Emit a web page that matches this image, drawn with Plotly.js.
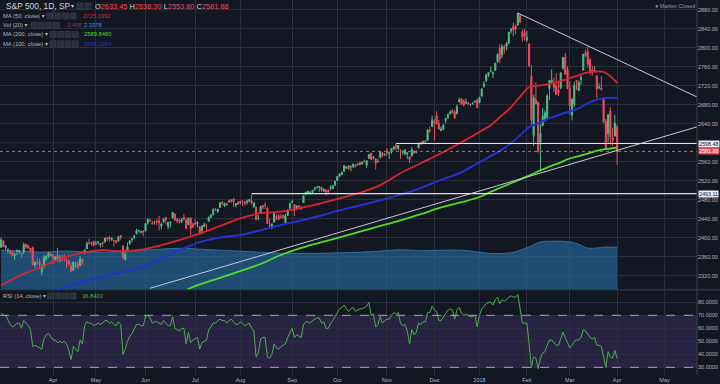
<!DOCTYPE html>
<html><head><meta charset="utf-8">
<script src="https://cdn.plot.ly/plotly-3.0.1.min.js"></script>
<style>html,body{margin:0;padding:0;background:#131722;}#chart{width:720px;height:384px;}</style>
</head><body><div id="chart"></div>
<script>
// ---------- calendar ----------
const firstDay = '2017-03-01', lastDay = '2018-04-02', axisEnd = '2018-05-31';
const holidays = ['2017-04-14','2017-05-29','2017-07-04','2017-09-04','2017-11-23','2017-12-25','2018-01-01','2018-01-15','2018-02-19','2018-03-30'];
function tradingDays(from, to) {
  const out = []; const d = new Date(from + 'T00:00:00Z'); const end = new Date(to + 'T00:00:00Z');
  while (d <= end) { const wd = d.getUTCDay(); const s = d.toISOString().slice(0, 10);
    if (wd !== 0 && wd !== 6 && holidays.indexOf(s) < 0) out.push(s); d.setUTCDate(d.getUTCDate() + 1); }
  return out;
}
const dates = tradingDays(firstDay, lastDay);
const axisDays = tradingDays(firstDay, axisEnd);

// ---------- price data (daily OHLC) ----------
const open = [
2380,2394,2380,2375,2371,2370,2363,2372,2371,2368,2370,2387,2384,2378,2379,2343,2346,2350,2329,2339,2356,2361,2366,
2363,2354,2363,2353,2356,2358,2354,2352,2341,2332,2342,2346,2342,2355,2370,2377,2389,2389,2393,
2388,2391,2386,2390,2392,2400,2401,2397,2395,2394,2393,2405,2383,2354,2371,2388,2397,2401,2409,2415,2412,2415,
2415,2432,2437,2431,2433,2434,2436,2425,2434,2443,2424,2432,2442,2450,2439,2437,2434,2443,2437,2428,2442,2429,
2431,2430,2423,2414,2424,2427,2435,2444,2449,2460,2455,2464,2475,2468,2472,2476,2480,2482,2469,2475,
2474,2478,2476,2475,2477,2478,2465,2465,2441,2454,2468,2469,2462,2427,2425,2433,2445,2447,2444,2447,2432,2447,2462,
2475,2470,2463,2468,2462,2474,2492,2493,2494,2496,2502,2506,2507,2507,2498,2500,2500,2504,2504,2511,
2521,2530,2533,2540,2547,2552,2549,2550,2553,2556,2555,2556,2562,2553,2567,2578,2568,2566,2560,2570,2578,2575,
2584,2578,2581,2588,2595,2588,2585,2580,2576,2577,2570,2572,2583,2580,2589,2601,2600,2603,2605,2627,2634,
2645,2657,2640,2626,2628,2647,2652,2661,2667,2665,2661,2686,2693,2689,2683,2684,2680,2682,2686,2690,
2684,2698,2719,2731,2743,2751,2745,2752,2771,2799,2785,2802,2803,2810,2835,2845,2846,2848,2868,2833,2832,
2817,2808,2741,2615,2690,2686,2601,2636,2646,2653,2714,2728,2725,2720,2711,2716,2757,2780,2754,
2715,2658,2681,2731,2710,2733,2753,2790,2792,2775,2753,2750,2741,2716,2715,2691,2646,2619,2667,2611,2614,
2633.45];
const high = [
2401,2394,2385,2378,2375,2373,2369,2376,2374,2369,2390,2388,2386,2379,2382,2351,2358,2357,2344,2364,2363,2370,2369,
2366,2361,2379,2364,2364,2366,2356,2352,2348,2350,2349,2352,2362,2356,2376,2392,2398,2392,2394,
2394,2392,2389,2392,2400,2401,2404,2400,2396,2395,2404,2406,2385,2375,2390,2396,2400,2405,2419,2416,2415,2415,
2431,2441,2440,2436,2436,2440,2446,2432,2441,2444,2433,2434,2454,2451,2442,2441,2442,2450,2442,2443,2443,2432,
2439,2435,2425,2427,2432,2430,2445,2450,2463,2463,2461,2474,2477,2474,2474,2480,2481,2484,2473,2477,
2478,2479,2477,2480,2481,2491,2475,2465,2448,2468,2468,2475,2466,2440,2431,2454,2449,2449,2451,2449,2450,2460,2475,
2480,2471,2469,2469,2467,2489,2497,2499,2498,2501,2508,2508,2509,2507,2504,2503,2503,2510,2511,2520,
2530,2535,2540,2553,2550,2552,2551,2556,2555,2558,2559,2560,2565,2563,2576,2579,2572,2568,2566,2582,2581,2578,
2589,2581,2588,2593,2597,2595,2586,2583,2587,2579,2572,2591,2584,2584,2600,2602,2605,2606,2628,2634,2657,
2650,2666,2648,2634,2640,2652,2660,2669,2671,2669,2680,2695,2694,2691,2693,2686,2683,2686,2688,2692,
2696,2715,2730,2744,2749,2760,2750,2768,2788,2807,2807,2806,2811,2833,2842,2853,2849,2873,2870,2838,2840,
2835,2809,2763,2701,2727,2686,2639,2673,2668,2702,2732,2754,2737,2747,2731,2748,2780,2789,2761,
2730,2694,2728,2732,2731,2741,2787,2797,2802,2778,2762,2761,2741,2725,2740,2695,2651,2661,2675,2632,2659,
2638.30];
const low = [
2380,2380,2375,2367,2365,2361,2354,2364,2367,2358,2366,2377,2378,2369,2342,2337,2342,2334,2322,2336,2352,2358,2361,
2345,2350,2350,2348,2350,2350,2337,2342,2328,2332,2337,2334,2340,2344,2366,2376,2387,2383,2382,
2385,2386,2380,2381,2389,2393,2392,2393,2382,2388,2393,2396,2357,2352,2370,2385,2391,2397,2407,2411,2409,2403,
2413,2428,2434,2429,2428,2427,2415,2418,2431,2428,2418,2422,2441,2437,2431,2430,2431,2436,2419,2428,2406,2421,
2428,2422,2408,2414,2422,2413,2435,2442,2447,2457,2452,2463,2468,2465,2467,2474,2474,2465,2464,2469,
2471,2467,2468,2470,2475,2470,2464,2438,2437,2454,2460,2461,2430,2421,2418,2433,2437,2437,2441,2439,2429,2447,2462,
2473,2446,2458,2460,2459,2474,2489,2492,2491,2493,2499,2504,2497,2497,2497,2489,2493,2500,2502,2509,
2520,2528,2532,2539,2545,2542,2540,2547,2548,2552,2552,2554,2559,2547,2567,2564,2565,2544,2559,2566,2569,2572,
2572,2566,2577,2584,2584,2585,2566,2575,2576,2566,2557,2572,2576,2578,2589,2595,2600,2598,2604,2620,2634,
2605,2639,2627,2624,2627,2641,2651,2660,2662,2651,2660,2686,2680,2676,2683,2679,2677,2680,2684,2673,
2683,2698,2716,2728,2738,2748,2736,2752,2768,2768,2778,2788,2794,2808,2830,2824,2828,2846,2853,2813,2815,
2812,2759,2638,2593,2681,2580,2540,2636,2645,2648,2690,2725,2707,2701,2698,2713,2754,2744,2713,
2659,2647,2675,2711,2709,2722,2752,2780,2758,2743,2741,2749,2694,2713,2710,2641,2585,2601,2596,2593,2614,
2553.80];
const close = [
2395.96,2381.92,2383.12,2375.31,2368.39,2362.98,2364.87,2372.60,2373.47,2365.45,2385.26,2381.38,2378.25,2373.47,2344.02,2348.45,2345.96,2343.98,2341.59,2358.57,2361.13,2368.06,2362.72,
2358.84,2360.16,2352.95,2357.49,2355.54,2357.16,2353.78,2344.93,2328.95,2349.01,2342.19,2338.17,2355.84,2348.69,2374.15,2388.61,2387.45,2388.77,2384.20,
2388.33,2391.17,2388.13,2389.52,2399.29,2399.38,2396.92,2399.63,2394.44,2390.90,2402.32,2400.67,2357.03,2365.72,2381.73,2394.02,2398.42,2404.39,2415.07,2415.82,2412.91,2411.80,
2430.06,2439.07,2436.10,2429.33,2433.14,2433.79,2431.77,2429.39,2440.35,2437.92,2432.46,2433.15,2453.46,2437.03,2435.61,2434.50,2438.30,2439.07,2419.38,2440.69,2419.70,2423.41,
2429.01,2432.54,2409.75,2425.18,2427.43,2425.53,2443.25,2447.83,2459.27,2459.14,2460.61,2473.83,2473.45,2472.54,2469.91,2477.13,2477.83,2475.42,2472.10,2470.30,
2476.35,2477.57,2472.16,2476.83,2480.91,2474.92,2474.02,2438.21,2441.32,2465.84,2464.61,2468.11,2430.01,2425.55,2428.37,2452.51,2444.04,2438.97,2443.05,2444.24,2446.30,2457.59,2471.65,
2476.55,2457.85,2465.54,2465.10,2461.43,2488.11,2496.48,2498.37,2495.62,2500.23,2503.87,2506.65,2508.24,2500.60,2502.22,2496.66,2496.84,2507.04,2510.06,2519.36,
2529.12,2534.58,2537.74,2552.07,2549.33,2544.73,2550.64,2555.24,2550.93,2553.17,2557.64,2559.36,2561.26,2562.10,2575.21,2564.98,2569.13,2557.15,2560.40,2581.07,2572.83,2575.26,
2579.36,2579.85,2587.84,2591.13,2590.64,2594.38,2584.62,2582.30,2584.84,2578.87,2564.62,2585.64,2578.85,2582.14,2599.03,2597.08,2602.42,2601.42,2627.04,2626.07,2647.58,
2642.22,2639.44,2629.57,2629.27,2636.98,2651.50,2659.99,2664.11,2662.85,2652.01,2675.81,2690.16,2681.47,2679.25,2684.57,2683.34,2680.50,2682.62,2687.54,2673.61,
2695.81,2713.06,2723.99,2743.15,2747.71,2751.29,2748.23,2767.56,2786.24,2776.42,2802.56,2798.03,2810.30,2832.97,2839.13,2837.54,2839.25,2872.87,2853.53,2822.43,2823.81,
2821.98,2762.13,2648.94,2695.14,2681.66,2581.00,2619.55,2656.00,2662.94,2698.63,2731.20,2732.22,2716.26,2701.33,2703.96,2747.30,2779.60,2744.28,2713.83,
2677.67,2691.25,2720.94,2728.12,2726.80,2738.97,2786.57,2783.02,2765.31,2749.48,2747.33,2752.01,2712.92,2716.94,2711.93,2643.69,2588.26,2658.55,2612.62,2605.00,2640.87,
2581.88];

// ---------- RSI (14, close), read per bar ----------
const rsi = [
72,70,70,66,63,61,62,64,64,60,66,64,62,59,46,47,46,45,44,52,55,56,53,
51,51,49,50,49,50,48,43,36,46,44,42,51,48,62,65,64,64,62,
63,64,63,64,66,66,64,65,63,62,65,63,40,44,50,54,56,59,63,63,62,62,
69,70,68,64,65,65,64,63,66,64,62,62,69,60,59,58,60,60,48,57,49,51,
52,53,44,49,50,51,59,61,64,64,66,67,66,66,64,66,67,65,63,63,
65,64,62,63,64,60,58,38,41,52,53,53,38,37,40,48,45,44,46,47,48,53,57,
60,53,55,54,53,63,65,65,64,66,67,68,68,64,65,60,60,64,66,69,
72,75,76,78,75,73,75,76,73,74,75,75,76,77,80,70,71,61,63,69,64,66,
67,67,70,72,71,72,64,62,63,58,48,59,55,57,64,63,65,65,72,72,77,
74,73,66,66,69,72,74,75,74,67,74,76,72,70,71,70,69,69,70,61,
70,75,77,79,80,80,78,82,84,79,82,81,82,84,85,84,84,86,75,64,64,
64,48,30,38,37,29,37,41,42,47,51,51,49,47,47,53,57,53,49,
45,47,50,51,51,53,59,58,55,53,52,53,47,47,46,38,30,42,38,37,43,
36.84];

// ---------- moving averages & volume MA (read at sample dates) ----------
const maDates = ['2017-03-01','2017-03-14','2017-03-27','2017-04-07','2017-04-20','2017-05-03','2017-05-16','2017-05-30','2017-06-12','2017-06-23',
'2017-07-06','2017-07-19','2017-08-01','2017-08-14','2017-08-25','2017-09-08','2017-09-21','2017-10-03','2017-10-16','2017-10-27',
'2017-11-09','2017-11-22','2017-12-06','2017-12-19','2018-01-02','2018-01-09','2018-01-16','2018-01-23','2018-01-29','2018-02-02',
'2018-02-09','2018-02-15','2018-02-23','2018-03-01','2018-03-07','2018-03-12','2018-03-16','2018-03-22','2018-03-27','2018-04-02'];
const ma50 = [2300,2322,2339,2357,2368,2374,2372,2375,2385,2397,2409,2425,2441,2452,2455,2463,2473,2483,2495,2511,
2536,2557,2578,2601,2623,2637,2654,2675,2697,2717,2721,2724,2730,2736,2742,2747,2750,2749,2740,2726];
const ma100 = [2243,2262,2279,2294,2306,2317,2328,2338,2357,2376,2391,2401,2406,2416,2427,2437,2447,2458,2468,2479,
2491,2505,2522,2538,2559,2572,2583,2599,2616,2633,2643,2652,2660,2666,2673,2681,2689,2694,2695,2694];
const ma200 = [2180,2192,2205,2218,2229,2241,2252,2262,2272,2287,2302,2316,2330,2345,2364,2379,2391,2401,2413,2425,
2437,2450,2464,2475,2486,2497,2505,2515,2523,2531,2542,2550,2559,2567,2572,2576,2582,2586,2588,2590];
const volMa = [2.17,2.12,2.06,2.12,2.09,2.06,2.09,2.17,2.23,2.28,2.23,2.17,2.12,2.06,2.0,2.0,2.0,2.03,2.06,2.12,
2.2,2.14,2.17,2.17,2.06,1.99,1.99,2.03,2.17,2.36,2.63,2.67,2.67,2.63,2.5,2.31,2.28,2.34,2.34,2.34];

// ---------- axis ticks ----------
const tickDates = ['2017-04-03','2017-05-01','2017-06-01','2017-07-03','2017-08-01','2017-09-01','2017-10-02','2017-11-01','2017-12-01','2018-01-02','2018-02-01','2018-03-01','2018-04-02','2018-05-01'];
const tickLabels = ['Apr','May','Jun','Jul','Aug','Sep','Oct','Nov','Dec','2018','Feb','Mar','Apr','May'];
// 2600.00 sits under the 2598.48 price tag, so it is left out of the visible scale labels
const priceTicks = [2320,2360,2400,2440,2480,2520,2560,2640,2680,2720,2760,2800,2840,2880];
const rsiTicks = [30,40,50,60,70,80];

// ---------- drawings ----------
const levelPrices = [2598.48, 2493.11];
const levelStarts = ['2017-11-07', '2017-08-08'];
const trendUpDates = ['2017-06-05', '2018-04-02'], trendUpPrices = [2294, 2584];
const trendDownDates = ['2018-01-26', '2018-03-13'], trendDownPrices = [2872.87, 2804];

// ---------- build ----------
const pos = d => axisDays.indexOf(d);
const xMax = 308.4;
const PW = 697, PH = 375;
const X = px => px / PW, Y = py => 1 - py / PH;
const GRID = '#2b2f3c';
const C_UP = '#53b987', C_DN = '#eb4d5c';
const C50 = '#d8262f', C100 = '#2233cc', C200 = '#4fdc25', C_RSI = '#4caf50';
const xIdx = dates.map(pos);
const maX = maDates.map(pos);

const traces = [
  {type:'scatter', x:maX, y:volMa, xaxis:'x', yaxis:'y', mode:'lines', line:{color:'rgba(48,118,168,0.9)', width:1, shape:'spline'},
   fill:'tozeroy', fillcolor:'rgba(36,100,150,0.7)', hoverinfo:'skip'},
  {type:'candlestick', x:xIdx, open:open, high:high, low:low, close:close, xaxis:'x', yaxis:'y3', whiskerwidth:0,
   increasing:{line:{color:C_UP, width:1}, fillcolor:C_UP}, decreasing:{line:{color:C_DN, width:1}, fillcolor:C_DN}},
  {type:'scatter', x:maX, y:ma200, xaxis:'x', yaxis:'y3', mode:'lines', line:{color:C200, width:1.8, shape:'spline'}},
  {type:'scatter', x:maX, y:ma100, xaxis:'x', yaxis:'y3', mode:'lines', line:{color:C100, width:2, shape:'spline'}},
  {type:'scatter', x:maX, y:ma50, xaxis:'x', yaxis:'y3', mode:'lines', line:{color:C50, width:1.8, shape:'spline'}},
  {type:'scatter', x:xIdx, y:rsi, xaxis:'x', yaxis:'y2', mode:'lines', line:{color:C_RSI, width:1}}
];

const shapes = [];
shapes.push({type:'rect', xref:'x', yref:'y2', x0:-0.5, x1:xMax, y0:30, y1:70, fillcolor:'rgba(126,87,194,0.2)', line:{width:0}, layer:'below'});
// grid line at 2600 (its label is hidden under the tag)
shapes.push({type:'line', xref:'x', yref:'y3', x0:-0.5, x1:xMax, y0:2600, y1:2600, line:{color:GRID, width:1}, layer:'below'});
[70, 30].forEach(v => shapes.push({type:'line', xref:'x', yref:'y2', x0:-0.5, x1:xMax, y0:v, y1:v, line:{color:'#a3a6af', width:1, dash:'dash'}}));
levelPrices.forEach((p, k) => shapes.push({type:'line', xref:'x', yref:'y3', x0:pos(levelStarts[k]), x1:xMax, y0:p, y1:p, line:{color:'#dfe1e6', width:1.2}}));
shapes.push({type:'line', xref:'x', yref:'y3', x0:-0.5, x1:xMax, y0:close[close.length-1], y1:close[close.length-1], line:{color:C_DN, width:1, dash:'dot'}});
function trend(ds, ps) {
  const a = pos(ds[0]), b = pos(ds[1]); const s = (ps[1] - ps[0]) / (b - a);
  return {type:'line', xref:'x', yref:'y3', x0:a, y0:ps[0], x1:xMax, y1:ps[0] + s * (xMax - a), line:{color:'#c9cbd1', width:1}};
}
shapes.push(trend(trendUpDates, trendUpPrices));
shapes.push(trend(trendDownDates, trendDownPrices));
shapes.push({type:'line', xref:'paper', yref:'paper', x0:0, x1:720/PW, y0:Y(289.8), y1:Y(289.8), line:{color:'#3c404c', width:1}});
shapes.push({type:'line', xref:'paper', yref:'paper', x0:1, x1:1, y0:0, y1:1, line:{color:'#3c404c', width:1}});
// small toolbar buttons in the legend
const icon = (x, y) => shapes.push({type:'rect', xref:'paper', yref:'paper', x0:X(x), x1:X(x+6), y0:Y(y+6), y1:Y(y), fillcolor:'#2c303c', line:{color:'#434755', width:0.5}});
[77, 85].forEach(x => icon(x, 3));
[47, 55, 62.5, 70].forEach(x => icon(x, 13));
[31, 38.5, 46, 53.5].forEach(x => icon(x, 22.3));
[50, 57.5, 65, 72.5].forEach(x => { icon(x, 31.5); icon(x, 40.7); });
[47.5, 55, 62.5, 70].forEach(x => icon(x, 293));

const ann = [];
const txt = (x, y, t, color, size) => ann.push({xref:'paper', yref:'paper', x:X(x), y:Y(y), xanchor:'left', yanchor:'middle', text:t, showarrow:false, borderpad:0, font:{color:color, size:size}});
txt(5, 6, 'S&P 500, 1D, SP', '#d1d4dc', 8.4);
txt(70, 6.5, '▾', '#d1d4dc', 6);
const v = s => '<span style="color:' + C_DN + '">' + s + '</span>';
txt(94, 6, 'O' + v('2633.45') + ' H' + v('2638.30') + ' L' + v('2553.80') + ' C' + v('2581.88'), '#d1d4dc', 7.4);
txt(2, 16, 'MA (50, close) ▾', '#b2b5be', 5.8);
txt(82, 16, '2725.1992', C50, 5.8);
txt(2, 25.3, 'Vol (20) ▾', '#b2b5be', 5.8);
txt(66, 25.3, '2.468', '#8e3a46', 5.8);
txt(83, 25.3, '2.3378', '#3f8fe0', 5.8);
txt(2, 34.5, 'MA (200, close) ▾', '#b2b5be', 5.8);
txt(83, 34.5, '2589.8460', C200, 5.8);
txt(2, 43.7, 'MA (100, close) ▾', '#b2b5be', 5.8);
txt(83, 43.7, '2694.2094', C100, 5.8);
txt(2, 296, 'RSI (14, close) ▾', '#b2b5be', 5.8);
txt(81, 296, '36.8403', C_RSI, 5.8);
txt(654, 6, '● Market Closed', '#9598a1', 5.5);
// price labels on the right scale
const tag = (p, bg, fg) => ann.push({xref:'paper', yref:'y3', x:1, y:p, xanchor:'left', yanchor:'middle', xshift:1, text:p.toFixed(2), showarrow:false, bgcolor:bg, borderpad:0.2, font:{color:fg, size:5.3}});
tag(levelPrices[0], '#eceef3', '#131722');
tag(close[close.length-1], C_DN, '#ffffff');
tag(levelPrices[1], '#eceef3', '#131722');

const layout = {
  width:720, height:384, margin:{l:0, r:23, t:0, b:9},
  paper_bgcolor:'#131722', plot_bgcolor:'#131722', showlegend:false, dragmode:false,
  font:{family:'Liberation Sans, Arial, DejaVu Sans, sans-serif', color:'#b2b5be', size:5.5},
  xaxis:{anchor:'y2', range:[-0.5, xMax], tickmode:'array', tickvals:tickDates.map(pos), ticktext:tickLabels,
    showgrid:true, gridcolor:GRID, zeroline:false, showline:false, ticks:'', rangeslider:{visible:false}, tickfont:{size:5.5}},
  yaxis:{domain:[1 - 289.5/PH, 1], range:[0, 16], visible:false},
  yaxis3:{overlaying:'y', anchor:'x', side:'right', range:[2291.4, 2900.4], tickmode:'array', tickvals:priceTicks, tickformat:'.2f',
    showgrid:true, gridcolor:GRID, zeroline:false, showline:false, ticks:'', tickfont:{size:5.5}},
  yaxis2:{domain:[0, 1 - 290.5/PH], anchor:'x', side:'right', range:[24.1, 89.1], tickmode:'array', tickvals:rsiTicks,
    tickformat:'.4f', showgrid:true, gridcolor:GRID, zeroline:false, showline:false, ticks:'', tickfont:{size:5.5}},
  shapes:shapes, annotations:ann
};
Plotly.newPlot('chart', traces, layout, {staticPlot:true, displayModeBar:false});
</script>
</body></html>
